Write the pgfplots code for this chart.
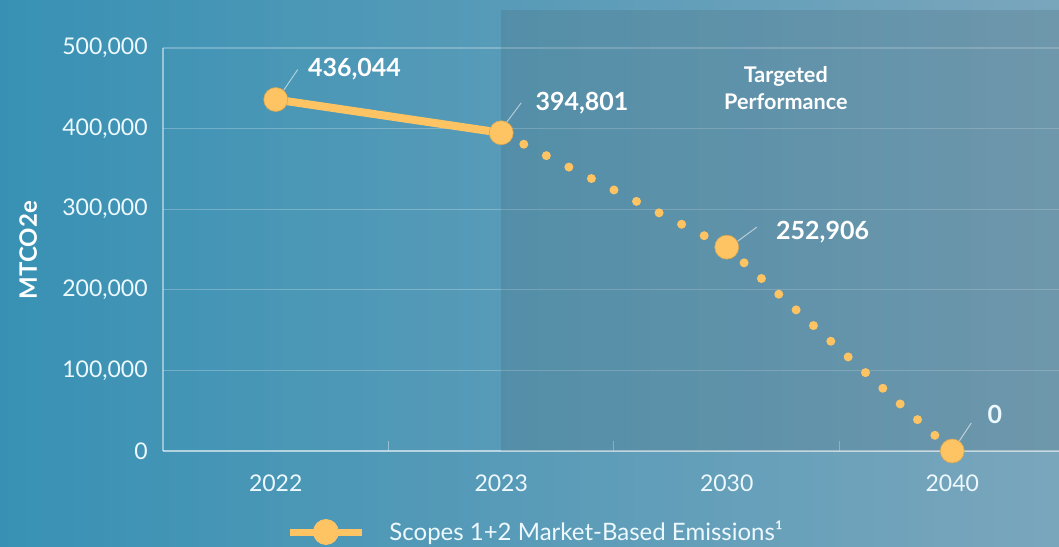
\documentclass[border=0pt]{standalone}
\usepackage{fontspec}
\setmainfont{Lato}
\usepackage{pgfplots}
\pgfplotsset{compat=1.18}

\definecolor{mk}{RGB}{254,196,99}
\definecolor{bgL}{RGB}{56,145,180}
\definecolor{bgM}{RGB}{100,170,200}
\definecolor{bgR}{RGB}{122,166,188}
\definecolor{shadecol}{RGB}{70,100,115}
\colorlet{txt}{white!93!cyan}

\begin{document}
\begin{tikzpicture}[
    lbl/.style={font=\bfseries\fontsize{12.5}{14}\selectfont, text=white, inner sep=0pt},
    leader/.style={white, opacity=0.55, line width=0.5pt},
]
% background, 1px = 0.5pt
\shade[left color=bgL, middle color=bgM, right color=bgR] (-81.5pt,-47.5pt) rectangle (448pt,225.5pt);
\begin{axis}[
    at={(0pt,0pt)}, anchor=south west,
    scale only axis,
    width=451pt, height=201.5pt,
    xmin=-0.5, xmax=3.5,
    ymin=0, ymax=500000,
    clip=false,
    axis x line*=bottom,
    axis y line*=left,
    axis line style={white, opacity=0.45, line width=0.6pt},
    xtick={0,1,2,3},
    xticklabels={2022,2023,2030,2040},
    minor xtick={0.5,1.5,2.5},
    ytick={0,100000,200000,300000,400000,500000},
    scaled y ticks=false,
    /pgf/number format/.cd, fixed, 1000 sep={,}, assume math mode=true, /pgfplots/.cd,
    ymajorgrids,
    grid style={white, opacity=0.25, line width=0.6pt},
    major tick length=0pt,
    minor tick length=5pt,
    tick align=inside,
    minor tick style={white, opacity=0.4, line width=0.5pt},
    tick label style={font=\fontsize{11.5}{13}\selectfont, text=txt, inner sep=0pt},
    yticklabel style={xshift=-7.5pt},
    xticklabel style={yshift=-11.5pt},
    legend style={draw=none, fill=none, inner sep=0pt,
        at={(axis description cs:0.1364,-0.201)}, anchor=west,
        nodes={inner sep=0pt, text=txt, font=\fontsize{12}{14}\selectfont},
        column sep=12pt},
]
% targeted performance band
\fill[shadecol, opacity=0.22] (axis cs:1,0) rectangle (axis cs:3.5,547000);

\addplot[mk, line width=4pt, mark=none, forget plot] coordinates {(0,436044) (1,394801)};
\addplot[mk, line width=4.5pt, line cap=round, dash pattern=on 0pt off 12.64pt, mark=none, forget plot]
    coordinates {(1,394801) (2,252906)};
\addplot[mk, line width=4.5pt, line cap=round, dash pattern=on 0pt off 11.69pt, mark=none, forget plot]
    coordinates {(2,252906) (3,0)};
\addplot[only marks, mark=*, mark size=6pt,
    mark options={fill=mk, draw=mk!85!black, line width=0.3pt},
    legend image code/.code={
        \draw[mk, line width=3.5pt] (0pt,0pt) -- (36pt,0pt);
        \fill[mk] (18pt,0pt) circle (6.25pt);}]
    coordinates {(0,436044) (1,394801) (2,252906) (3,0)};
\addlegendentry{Scopes 1+2 Market-Based Emissions¹}

% value labels
\draw[leader] ([xshift=3.5pt,yshift=4pt]axis cs:0,436044) -- ([xshift=11pt,yshift=15pt]axis cs:0,436044);
\node[lbl, anchor=base west] at ([xshift=16pt,yshift=11.5pt]axis cs:0,436044) {436,044};
\draw[leader] ([xshift=2.5pt,yshift=5pt]axis cs:1,394801) -- ([xshift=10pt,yshift=15pt]axis cs:1,394801);
\node[lbl, anchor=base west] at ([xshift=17pt,yshift=11pt]axis cs:1,394801) {394,801};
\draw[leader] ([xshift=5.5pt,yshift=3pt]axis cs:2,252906) -- ([xshift=15pt,yshift=10pt]axis cs:2,252906);
\node[lbl, anchor=base west] at ([xshift=24.5pt,yshift=4pt]axis cs:2,252906) {252,906};
\draw[leader] ([xshift=3.5pt,yshift=5pt]axis cs:3,0) -- ([xshift=9.5pt,yshift=14pt]axis cs:3,0);
\node[lbl, anchor=base west, text=white!92!cyan] at ([xshift=17.5pt,yshift=14pt]axis cs:3,0) {0};

% band title
\node[font=\bfseries\fontsize{10.8}{13}\selectfont, text=white, anchor=base, inner sep=0pt] at (axis cs:2.262,457700) {Targeted};
\node[font=\bfseries\fontsize{10.8}{13}\selectfont, text=white, anchor=base, inner sep=0pt] at (axis cs:2.262,424200) {Performance};

% y label
\node[rotate=90, anchor=base, inner sep=0pt, font=\bfseries\fontsize{12}{14}\selectfont, text=white]
    at ([xshift=-63pt]axis description cs:0,0.4988) {MTCO2e};
\end{axis}
\pgfresetboundingbox
\useasboundingbox (-81.5pt,-47.5pt) rectangle (448pt,225.5pt);
\end{tikzpicture}
\end{document}
